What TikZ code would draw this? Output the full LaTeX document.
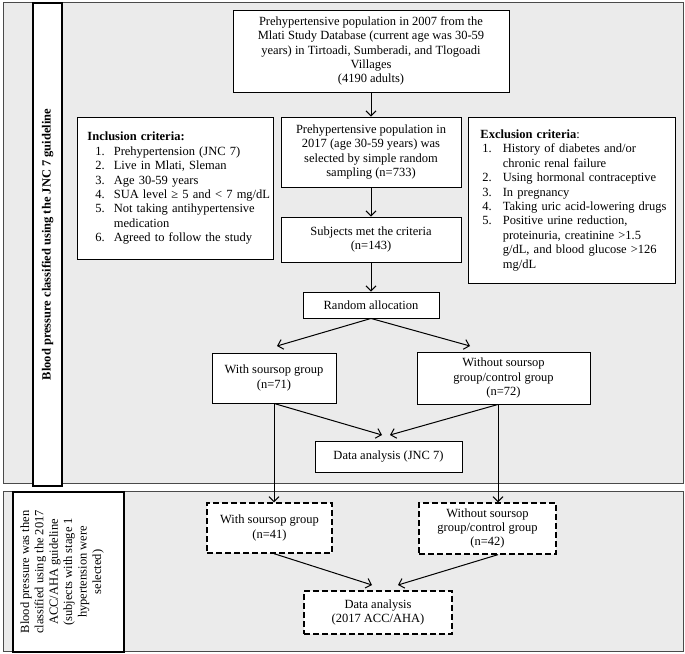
\documentclass[tikz,border=0pt]{standalone}
\usepackage{fontspec}
\setmainfont{Liberation Serif}
\usetikzlibrary{arrows.meta}
\definecolor{panelgray}{HTML}{EBEBEB}
\definecolor{panelline}{HTML}{4A4A4A}
\begin{document}
\begin{tikzpicture}[x=1pt,y=-1pt,
  every node/.style={font=\fontsize{12.5}{14.4}\selectfont},
  panel/.style={fill=panelgray,draw=panelline,line width=1pt},
  sidebar/.style={draw=black,fill=white,line width=2.2pt,inner sep=0pt},
  box/.style={draw=black,fill=white,line width=0.9pt,align=center,inner sep=0pt},
  dbox/.style={box,dash pattern=on 6pt off 3pt,line width=1.3pt},
  arr/.style={line width=1pt,-{Straight Barb[length=5pt,width=10pt]}},
  plain/.style={line width=1pt}
]
\useasboundingbox (0,0) rectangle (685,653);
\fill[white] (0,0) rectangle (685,653);
% panels
\draw[panel] (3,2) rectangle (683,483);
\draw[panel] (3,491) rectangle (683,651);
% side bars
\node[sidebar,rotate=90,minimum width=483pt,minimum height=29pt] (bar1) at (47.5,244.5)
  {\bfseries Blood pressure classified using the JNC 7 guideline};
\node[sidebar,minimum width=111pt,minimum height=160pt] (bar2) at (68.5,572) {};
\node[rotate=90,align=center] (bar2text) at (62,572)
  {Blood pressure was then\\classified using the 2017\\ACC/AHA guideline\\(subjects with stage 1\\hypertension were\\selected)};
% top flow
\node[box,minimum width=276pt,minimum height=82pt] (top) at (371,51)
  {Prehypertensive population in 2007 from the\\Mlati Study Database (current age was 30-59\\years) in Tirtoadi, Sumberadi, and Tlogoadi\\Villages\\(4190 adults)};
\node[box,minimum width=180pt,minimum height=70pt] (pop) at (371,152)
  {Prehypertensive population in\\2017 (age 30-59 years) was\\selected by simple random\\sampling (n=733)};
\node[box,minimum width=180pt,minimum height=45pt] (subj) at (371,239.5)
  {Subjects met the criteria\\(n=143)};
\node[box,minimum width=136pt,minimum height=26pt] (rand) at (371,305)
  {Random allocation};
% criteria
\node[box,anchor=north west,text width=176pt,inner xsep=10pt,inner ysep=0pt,minimum height=142pt,align=left] (incl) at (77,117)
  {\begin{tabular}{@{\hspace{8pt}}l@{\hspace{9pt}}l@{}}
   \multicolumn{2}{@{}l}{\bfseries Inclusion criteria:}\\
   1. & Prehypertension (JNC 7)\\
   2. & Live in Mlati, Sleman\\
   3. & Age 30-59 years\\
   4. & SUA level ≥ 5 and < 7 mg/dL\\
   5. & Not taking antihypertensive\\
      & medication\\
   6. & Agreed to follow the study
   \end{tabular}};
\node[box,anchor=north west,text width=183pt,inner xsep=12pt,inner ysep=0pt,minimum height=166pt,align=left] (excl) at (468,117)
  {\begin{tabular}{@{\hspace{2pt}}l@{\hspace{11pt}}l@{}}
   \multicolumn{2}{@{}l}{\textbf{Exclusion criteria}:}\\
   1. & History of diabetes and/or\\
      & chronic renal failure\\
   2. & Using hormonal contraceptive\\
   3. & In pregnancy\\
   4. & Taking uric acid-lowering drugs\\
   5. & Positive urine reduction,\\
      & proteinuria, creatinine >1.5\\
      & g/dL, and blood glucose >126\\
      & mg/dL
   \end{tabular}};
% groups
\node[box,minimum width=124pt,minimum height=50pt] (with) at (274,378)
  {With soursop group\\(n=71)};
\node[box,minimum width=173pt,minimum height=52pt] (without) at (503.5,378)
  {Without soursop\\group/control group\\(n=72)};
\node[box,minimum width=147pt,minimum height=31pt] (da1) at (388.5,456.5)
  {Data analysis (JNC 7)};
% panel 2
\node[dbox,minimum width=125pt,minimum height=50pt] (with2) at (269.5,528)
  {With soursop group\\(n=41)};
\node[dbox,minimum width=137pt,minimum height=51pt] (without2) at (487.5,528.5)
  {Without soursop\\group/control group\\(n=42)};
\node[dbox,minimum width=148pt,minimum height=43pt] (da2) at (378,612.5)
  {Data analysis\\(2017 ACC/AHA)};
% coordinates
\coordinate (ra1) at (277,346);
\coordinate (ra2) at (470,346);
\coordinate (d1) at (382,435);
\coordinate (d2) at (390,435);
\coordinate (vr) at ([xshift=-5.5pt]without.south);
\coordinate (e1) at (372,585);
\coordinate (e2) at (398,585);
% connectors
\draw[arr] (top.south) -- (pop.north);
\draw[arr] (pop.south) -- (subj.north);
\draw[arr] (subj.south) -- (rand.north);
\draw[arr] (rand.south) -- (ra1);
\draw[arr] (rand.south) -- (ra2);
\draw[arr] (with.south) -- (d1);
\draw[arr] (vr) -- (d2);
\draw[arr] (with.south) -- (with.south |- with2.north);
\draw[arr] (vr) -- (vr |- without2.north);
\draw[arr] (with.south |- with2.south) -- (e1);
\draw[arr] (vr |- without2.south) -- (e2);
\end{tikzpicture}
\end{document}
